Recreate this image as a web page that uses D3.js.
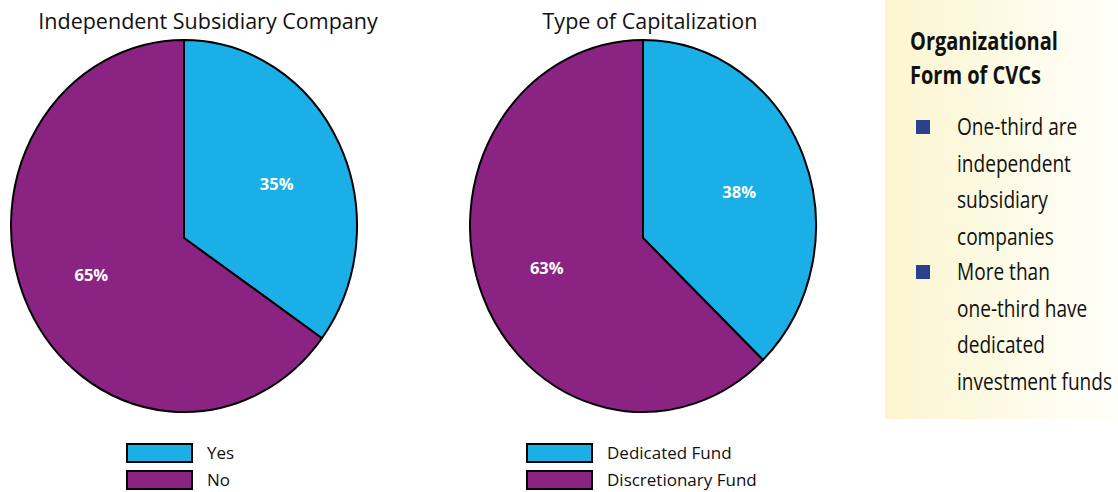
<!DOCTYPE html>
<html>
<head>
<meta charset="utf-8">
<script src="https://cdn.jsdelivr.net/npm/d3@7"></script>
<style>
  body { margin: 0; background: #fff; }
  svg { display: block; }
</style>
</head>
<body>
<div id="chart"></div>
<script>
var width = 1118,
    height = 492;

// data
var pieTitles = ["Independent Subsidiary Company", "Type of Capitalization"];
var subsidiaryLabels = ["Yes", "No"];
var subsidiaryValues = [35, 65];
var capitalLabels = ["Dedicated Fund", "Discretionary Fund"];
var capitalValues = [38, 63];
var panelTitle = ["Organizational", "Form of CVCs"];
var panelBullets = [
  ["One-third are", "independent", "subsidiary", "companies"],
  ["More than", "one-third have", "dedicated", "investment funds"]
];

var color = d3.scaleOrdinal().domain([0, 1]).range(["#1aafe6", "#8b2383"]);

var svg = d3.select("#chart").append("svg")
    .attr("width", width)
    .attr("height", height);

var defs = svg.append("defs");
var grad = defs.append("linearGradient").attr("id", "panelGrad");
grad.append("stop").attr("offset", "0%").attr("stop-color", "#fbf5cf");
grad.append("stop").attr("offset", "100%").attr("stop-color", "#fffffa");

var charts = [
  {title: pieTitles[0], labels: subsidiaryLabels, values: subsidiaryValues, cx: 184, titleX: 208, legX: 127},
  {title: pieTitles[1], labels: capitalLabels, values: capitalValues, cx: 643, titleX: 650, legX: 527}
];

// outline ellipse and the slice vertex (vertex sits a bit below the ellipse centre)
var rx = 173, ry = 186, cy = 226, vy = 238;

var pie = d3.pie().sort(null).value(function(d) { return d; });

// point where a ray from the vertex at angle a (clockwise from 12 o'clock) meets the ellipse
function rim(cx, a) {
  var dx = Math.sin(a), dy = -Math.cos(a), oy = vy - cy;
  var A = dx * dx / (rx * rx) + dy * dy / (ry * ry),
      B = 2 * oy * dy / (ry * ry),
      C = oy * oy / (ry * ry) - 1;
  var t = (-B + Math.sqrt(B * B - 4 * A * C)) / (2 * A);
  return [cx + t * dx, vy + t * dy];
}

function slicePath(cx, d) {
  var p0 = rim(cx, d.startAngle),
      p1 = rim(cx, d.endAngle);
  var large = (d.endAngle - d.startAngle) > Math.PI ? 1 : 0;
  var p = d3.path();
  p.moveTo(cx, vy);
  p.lineTo(p0[0], p0[1]);
  return p.toString() + "A" + rx + "," + ry + " 0 " + large + " 1 " + p1[0] + "," + p1[1] + "Z";
}

charts.forEach(function(c) {
  var g = svg.append("g");

  g.append("text")
      .attr("x", c.titleX)
      .attr("y", 29)
      .attr("text-anchor", "middle")
      .style("font-family", "'Open Sans', sans-serif")
      .style("font-size", "21.5px")
      .attr("fill", "#111")
      .text(c.title);

  var arcs = pie(c.values);

  g.selectAll(".slice")
    .data(arcs)
    .enter().append("path")
      .attr("class", "slice")
      .attr("d", function(d) { return slicePath(c.cx, d); })
      .attr("fill", function(d, i) { return color(i); })
      .attr("stroke", "#000")
      .attr("stroke-width", 2)
      .attr("stroke-linejoin", "round");

  g.selectAll(".pct")
    .data(arcs)
    .enter().append("text")
      .attr("class", "pct")
      .attr("x", function(d) { var a = (d.startAngle + d.endAngle) / 2; return c.cx + 104 * Math.sin(a); })
      .attr("y", function(d) { var a = (d.startAngle + d.endAngle) / 2; return vy - 8 - 100 * Math.cos(a); })
      .attr("dy", "0.35em")
      .attr("text-anchor", "middle")
      .style("font-family", "'Open Sans', sans-serif")
      .style("font-size", "16.5px")
      .style("font-weight", "bold")
      .attr("fill", "#fff")
      .text(function(d) { return d.data + "%"; });

  var lg = g.selectAll(".leg")
    .data(c.labels)
    .enter().append("g")
      .attr("transform", function(d, i) { return "translate(" + c.legX + "," + (444 + i * 27) + ")"; });

  lg.append("rect")
      .attr("width", 65)
      .attr("height", 18)
      .attr("fill", function(d, i) { return color(i); })
      .attr("stroke", "#000")
      .attr("stroke-width", 2);

  lg.append("text")
      .attr("x", 80)
      .attr("y", 9)
      .attr("dy", "0.35em")
      .style("font-family", "'Open Sans', sans-serif")
      .style("font-size", "17px")
      .attr("fill", "#111")
      .text(function(d) { return d; });
});

// side panel
var panel = svg.append("g");
panel.append("rect")
    .attr("x", 885)
    .attr("y", 0)
    .attr("width", 233)
    .attr("height", 419)
    .attr("fill", "url(#panelGrad)");

// condensed look: squeeze the text horizontally
panel.selectAll(".ptitle")
  .data(panelTitle)
  .enter().append("text")
    .attr("transform", function(d, i) { return "translate(910," + (50 + i * 34) + ") scale(0.8,1)"; })
    .style("font-family", "'Open Sans', sans-serif")
    .style("font-size", "25px")
    .style("font-weight", "bold")
    .attr("fill", "#111")
    .text(function(d) { return d; });

panelBullets.forEach(function(lines, b) {
  var y0 = 135 + b * 145;
  panel.append("rect")
      .attr("x", 916)
      .attr("y", y0 - 15)
      .attr("width", 14)
      .attr("height", 14)
      .attr("fill", "#2a4190");
  panel.selectAll(".b" + b)
    .data(lines)
    .enter().append("text")
      .attr("transform", function(d, i) { return "translate(957," + (y0 + i * 36.5) + ") scale(0.83,1)"; })
      .style("font-family", "'Open Sans', sans-serif")
      .style("font-size", "23px")
      .attr("fill", "#111")
      .text(function(d) { return d; });
});
</script>
</body>
</html>
